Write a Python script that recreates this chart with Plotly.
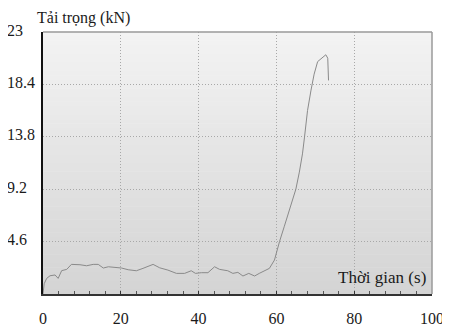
import plotly.graph_objects as go

# ---- data ----
time_s = [0, 0.3, 0.95, 1.8, 3.1, 3.9, 4.8, 6.1, 7.3, 9.5, 11.2, 12.9, 14.2, 15.5, 16.8,
          18.5, 20.2, 21.9, 24.0, 25.7, 28.3, 30.0, 32.1, 34.3, 36.4, 38.1, 39.2, 40.7,
          42.4, 44.1, 45.4, 47.5, 48.8, 50.1, 51.4, 52.9, 54.4, 55.6, 56.9, 58.2, 59.5,
          60.3, 60.8, 62.0, 63.5, 65.0, 65.9, 66.7, 67.2, 68.0, 68.9, 69.7, 70.6, 71.5,
          72.3, 72.7, 73.2, 73.3, 73.4]
load_kn = [0, 0.9, 1.37, 1.6, 1.67, 1.37, 2.05, 2.16, 2.6, 2.57, 2.48, 2.6, 2.6, 2.28, 2.39,
           2.34, 2.28, 2.13, 2.04, 2.25, 2.6, 2.3, 2.1, 1.81, 1.81, 2.04, 1.81, 1.87,
           1.87, 2.39, 2.16, 2.04, 1.81, 1.9, 1.58, 1.81, 1.58, 1.81, 2.01, 2.25, 2.98,
           4.0, 4.6, 5.9, 7.5, 9.2, 10.7, 12.3, 13.7, 16.1, 17.9, 19.3, 20.4, 20.65,
           20.86, 21.0, 20.7, 19.9, 18.75]

x_ticks = [0, 20, 40, 60, 80, 100]
y_ticks = [4.6, 9.2, 13.8, 18.4, 23]
y_tick_labels = ["4.6", "9.2", "13.8", "18.4", "23"]
y_title = "Tải trọng (kN)"
x_title = "Thời gian (s)"

FONT = "'Liberation Serif', 'Times New Roman', 'DejaVu Serif', serif"
TXT = "#1a1a1a"

fig = go.Figure()
fig.add_trace(go.Scatter(x=time_s, y=load_kn, mode="lines",
                         line=dict(color="#8a8a8a", width=1), hoverinfo="skip",
                         showlegend=False))

# vertical gradient background for plot area
shapes = []
n = 60
top = (243, 243, 243)
bot = (212, 212, 212)
for i in range(n):
    t = i / (n - 1)
    c = tuple(round(bot[k] + (top[k] - bot[k]) * t) for k in range(3))
    shapes.append(dict(type="rect", xref="paper", yref="paper",
                       x0=0, x1=1, y0=i / n, y1=(i + 1) / n + 0.002,
                       fillcolor="rgb(%d,%d,%d)" % c, line=dict(width=0), layer="below"))
# top and right grey frame
shapes.append(dict(type="line", xref="paper", yref="paper", x0=0, x1=1, y0=1, y1=1,
                   line=dict(color="#9a9a9a", width=1.5)))
shapes.append(dict(type="line", xref="paper", yref="paper", x0=1, x1=1, y0=0, y1=1,
                   line=dict(color="#9a9a9a", width=1.5)))

annotations = [
    dict(text=y_title, xref="paper", yref="paper", x=0, y=1, xshift=-8, yshift=14,
         xanchor="left", yanchor="middle", showarrow=False,
         font=dict(family=FONT, size=16, color=TXT)),
    dict(text=x_title, xref="paper", yref="paper", x=1, y=0, xshift=-4, yshift=17,
         xanchor="right", yanchor="middle", showarrow=False,
         font=dict(family=FONT, size=17, color=TXT)),
]
for v, lab in zip(y_ticks, y_tick_labels):
    annotations.append(dict(text=lab, xref="paper", yref="y", x=0, y=v, xshift=-38,
                            yshift=2, xanchor="left", yanchor="middle", showarrow=False,
                            font=dict(family=FONT, size=16, color=TXT)))

# page body has an 8px default margin, so the figure is sized to fit inside the window
fig.update_layout(
    width=442, height=324,
    margin=dict(l=35, r=18, t=24, b=38),
    paper_bgcolor="white",
    plot_bgcolor="rgba(0,0,0,0)",
    font=dict(family=FONT, color=TXT),
    shapes=shapes,
    annotations=annotations,
    xaxis=dict(range=[0, 100], tickvals=x_ticks, ticktext=[str(v) for v in x_ticks],
               showgrid=True, gridcolor="#a8a8a8", gridwidth=1, griddash="1px,2px",
               zeroline=False, showline=True, linecolor="#333333", linewidth=2,
               ticks="inside", ticklen=3, tickcolor="#333333",
               minor=dict(dtick=4, ticks="inside", ticklen=3, tickcolor="#555555",
                          showgrid=False),
               ticklabelstandoff=9, automargin=False,
               tickfont=dict(family=FONT, size=16, color=TXT), fixedrange=True),
    yaxis=dict(range=[0, 23], tickvals=y_ticks, showticklabels=False,
               showgrid=True, gridcolor="#a8a8a8", gridwidth=1, griddash="1px,2px",
               zeroline=False, showline=True, linecolor="#111111", linewidth=2,
               ticks="", fixedrange=True, automargin=False),
)

fig.write_html("out.html")
